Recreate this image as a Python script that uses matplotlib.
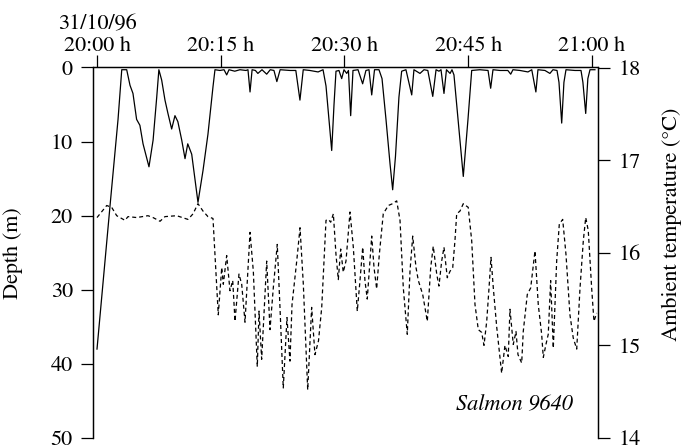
import matplotlib
matplotlib.use("Agg")
import matplotlib.pyplot as plt

plt.rcParams['font.family'] = ['STIXGeneral', 'DejaVu Serif']
plt.rcParams['mathtext.fontset'] = 'stix'

# minutes after 20:00 h
depth_time = [0.0, 1.6, 2.55, 3.0, 3.6, 4.0, 4.36, 4.8, 5.2, 5.58, 5.9, 6.3, 6.8, 7.24, 7.5,
              7.84, 8.24, 8.6, 9.05, 9.45, 9.8, 10.27, 10.67, 11.0, 11.48, 12.24, 12.85, 13.45,
              14.06, 14.3, 14.9, 15.4, 15.72, 16.0, 16.7, 17.33, 18.06, 18.3, 18.55, 18.8, 19.2,
              19.5, 20.0, 20.57, 21.0, 21.45, 21.8, 22.2, 23.4, 24.1, 24.6, 25.0, 25.8, 26.8,
              27.4, 27.76, 28.24, 28.45, 28.73, 28.97, 29.33, 29.66, 29.94, 30.27, 30.48, 30.75,
              31.03, 31.64, 32.2, 32.6, 32.97, 33.3, 33.64, 34.18, 34.55, 35.03, 35.52, 35.84,
              36.18, 36.6, 36.93, 37.45, 38.15, 38.42, 39.15, 39.64, 40.1, 40.7, 41.1, 41.45,
              41.7, 42.06, 42.36, 42.8, 43.03, 43.27, 43.76, 44.4, 44.97, 45.42, 46.4, 47.4,
              47.72, 48.0, 48.85, 49.8, 50.15, 50.42, 51.27, 52.24, 52.7, 53.2, 53.45, 54.3,
              54.9, 55.27, 55.76, 56.0, 56.33, 56.6, 56.85, 57.94, 58.67, 58.9, 59.24, 59.5,
              59.76, 60.36]
depth_m = [38, 18.4, 7, 0.3, 0.3, 2.4, 3.5, 7, 7.8, 10.3, 11.7, 13.4, 9.8, 4, 0.3,
           1.7, 4.4, 6.2, 8.3, 6.5, 7.3, 9.8, 12.3, 10.3, 11.7, 18.2, 13.9, 9,
           2.6, 0.3, 0.4, 0.3, 1.0, 0.3, 0.5, 0.3, 0.4, 0.3, 3.3, 0.3, 0.4,
           0.8, 0.3, 0.9, 0.3, 0.4, 1.9, 0.3, 0.4, 0.4, 4.4, 0.3, 0.4, 0.6,
           0.3, 2.5, 8.5, 11.2, 5, 0.5, 0.4, 1.5, 0.3, 0.8, 0.4, 6.5,
           0.4, 0.3, 2.2, 0.4, 0.3, 3.7, 0.3, 0.3, 1.5, 7, 13, 16.5,
           12, 4, 0.5, 0.3, 3.7, 0.3, 0.8, 0.3, 0.4, 3.9, 0.3, 0.5,
           0.3, 3.5, 0.3, 0.8, 0.3, 1.0, 7, 14.7, 7, 0.4, 0.3, 0.4,
           2.8, 0.3, 0.4, 0.4, 0.9, 0.3, 0.4, 0.6, 0.3, 3.3, 0.3, 0.4,
           0.8, 0.3, 0.4, 2.0, 7.5, 2.0, 0.3, 0.4, 0.4, 2.0, 6.2, 1.5,
           0.3, 0.3]

temp_time = [0.0, 1.18, 1.78, 2.39, 3.39, 3.76, 4.81, 6.18, 6.79, 7.64, 8.24, 9.66, 11.03,
             11.64, 12.24, 12.85, 13.45, 14.06, 14.30, 14.70, 15.12, 15.31, 15.72, 16.12, 16.45,
             16.73, 17.21, 17.54, 17.94, 18.55, 18.95, 19.43, 19.64, 19.96, 20.57, 20.97, 21.37,
             21.85, 22.18, 22.58, 23.03, 23.39, 23.64, 24.21, 24.61, 25.01, 25.54, 26.02, 26.42,
             26.85, 27.24, 27.76, 28.04, 28.33, 28.65, 28.97, 29.25, 29.54, 29.85, 30.18, 30.67,
             31.07, 31.55, 31.88, 32.21, 32.48, 32.76, 33.09, 33.30, 33.58, 33.90, 34.22, 34.70,
             35.31, 35.84, 36.33, 36.73, 37.13, 37.61, 37.94, 38.27, 38.67, 38.95, 39.48, 40.04,
             40.45, 40.76, 41.18, 41.45, 41.78, 42.06, 42.46, 42.79, 43.12, 43.39, 43.60, 44.00,
             44.40, 45.00, 45.42, 45.82, 46.22, 46.63, 46.91, 47.24, 47.52, 47.76, 48.04, 48.45,
             49.05, 49.45, 49.85, 50.06, 50.46, 50.79, 51.03, 51.48, 51.67, 52.16, 52.57, 53.09,
             53.49, 53.90, 54.10, 54.42, 54.70, 54.99, 55.31, 55.72, 56.04, 56.45, 56.85, 57.33,
             57.73, 58.15, 58.55, 58.95, 59.24, 59.55, 59.96, 60.24, 60.57]
temp_c = [16.38, 16.51, 16.49, 16.40, 16.35, 16.39, 16.38, 16.40, 16.38, 16.34, 16.39, 16.40, 16.36,
          16.42, 16.53, 16.45, 16.39, 16.37, 15.98, 15.33, 15.84, 15.66, 15.97, 15.59, 15.70,
          15.26, 15.77, 15.66, 15.25, 16.22, 15.80, 14.77, 15.37, 14.85, 15.91, 15.17, 15.62,
          16.09, 15.41, 14.54, 15.30, 14.83, 15.44, 15.91, 16.27, 15.66, 14.52, 15.41, 14.90,
          15.05, 15.41, 16.35, 16.36, 16.33, 16.42, 15.98, 15.71, 16.04, 15.79, 15.91, 16.44,
          16.06, 15.37, 15.70, 16.06, 15.70, 15.50, 15.91, 16.18, 15.84, 15.61, 15.98, 16.42,
          16.51, 16.53, 16.56, 16.35, 15.62, 15.12, 15.80, 16.18, 15.84, 15.70, 15.55, 15.26,
          15.84, 16.07, 15.77, 15.64, 15.91, 16.06, 15.73, 15.80, 15.84, 16.13, 16.42, 16.45,
          16.53, 16.49, 16.13, 15.44, 15.17, 15.14, 15.00, 15.26, 15.62, 15.95, 15.62, 15.20,
          14.70, 15.00, 14.88, 15.39, 15.01, 15.15, 14.90, 14.81, 15.15, 15.55, 15.62, 16.02,
          15.44, 15.12, 14.87, 15.01, 15.12, 15.70, 14.97, 15.91, 16.31, 16.36, 15.98, 15.33,
          15.08, 14.96, 15.62, 16.13, 16.38, 16.24, 15.62, 15.26, 15.35]

time_ticks = [0, 15, 30, 45, 60]
time_labels = ["31/10/96\n20:00 h", "20:15 h", "20:30 h", "20:45 h", "21:00 h"]
depth_ticks = [0, 10, 20, 30, 40, 50]
temp_ticks = [14, 15, 16, 17, 18]

W, H = 684, 448
fig = plt.figure(figsize=(W / 100, H / 100), dpi=100)
L, R, T, B = 93, 598, 67.5, 438
ax = fig.add_axes([L / W, 1 - B / H, (R - L) / W, (B - T) / H])
ax2 = ax.twinx()

FS = 16
ax.plot(depth_time, depth_m, color='black', lw=0.9)
ax2.plot(temp_time, temp_c, color='black', lw=0.9, dashes=(3.2, 2.4))

ax.set_xlim(-0.485, 60.73)
ax.set_ylim(50, 0)
ax2.set_ylim(14, 18)

for a in (ax, ax2):
    a.spines['bottom'].set_visible(False)
    a.spines['top'].set_visible(True)
    for s in a.spines.values():
        s.set_linewidth(0.9)

ax.xaxis.tick_top()
ax.set_xticks(time_ticks)
ax.set_xticklabels(time_labels, fontsize=FS, linespacing=1.1)
ax.tick_params(axis='x', which='both', direction='out', length=9, width=0.9, pad=-0.5,
               top=True, bottom=False, labeltop=True, labelbottom=False)
ax.set_yticks(depth_ticks)
ax.tick_params(axis='y', direction='out', length=8.5, width=0.9, pad=6, labelsize=FS)
ax2.set_yticks(temp_ticks)
ax2.tick_params(axis='y', direction='out', length=8.5, width=0.9, pad=6, labelsize=FS)
ax2.tick_params(axis='x', top=False, bottom=False, labeltop=False, labelbottom=False)

ax.set_ylabel("Depth (m)", fontsize=FS)
ax.yaxis.set_label_coords((23 - L) / (R - L), 0.5)
ax2.set_ylabel("Ambient temperature (°C)", fontsize=FS)
ax2.yaxis.set_label_coords((662 - L) / (R - L), 0.576)

ax.text((573 - L) / (R - L), (B - 410) / (B - T), "Salmon 9640", transform=ax.transAxes,
        ha='right', va='baseline', fontsize=FS, style='italic')

fig.savefig("out.png", dpi=100)
